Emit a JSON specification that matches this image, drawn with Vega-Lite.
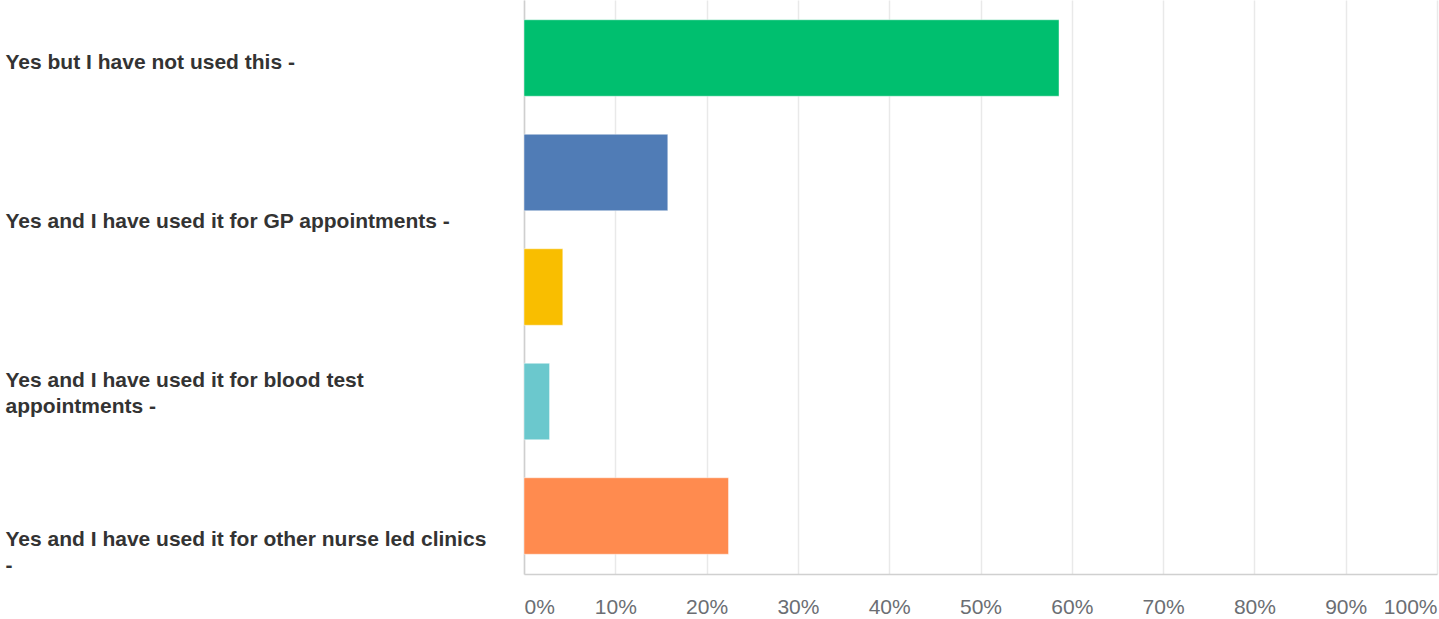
{
  "$schema": "https://vega.github.io/schema/vega-lite/v6.json",
  "width": 913,
  "height": 574,
  "autosize": {"type": "none"},
  "padding": {"left": 524, "top": 0, "right": 2, "bottom": 45},
  "background": "#ffffff",
  "config": {"view": {"stroke": null}, "font": "Liberation Sans"},
  "datasets": {
    "answers": [
      {"answer": "Yes but I have not used this", "share": 0.586},
      {"answer": "Yes and I have used it for GP appointments", "share": 0.1575},
      {"answer": "Yes and I have used it for blood test appointments", "share": 0.0425},
      {"answer": "Yes and I have used it for other nurse led clinics", "share": 0.028},
      {"answer": "Unlabelled answer", "share": 0.224}
    ],
    "labels": [
      {"label": "Yes but I have not used this -"},
      {"label": "Yes and I have used it for GP appointments -"},
      {"label": "Yes and I have used it for blood test\nappointments -"},
      {"label": "Yes and I have used it for other nurse led clinics\n-"}
    ]
  },
  "layer": [
    {
      "data": {"name": "answers"},
      "mark": {"type": "bar", "stroke": "#ffffff", "strokeOpacity": 0.45, "strokeWidth": 1},
      "encoding": {
        "y": {
          "field": "answer",
          "type": "nominal",
          "sort": null,
          "scale": {"paddingInner": 0.332, "paddingOuter": 0.1725},
          "axis": null
        },
        "x": {
          "field": "share",
          "type": "quantitative",
          "scale": {"domain": [0, 1], "nice": false},
          "axis": {
            "title": null,
            "values": [0, 0.1, 0.2, 0.3, 0.4, 0.5, 0.6, 0.7, 0.8, 0.9, 1],
            "format": ".0%",
            "grid": true,
            "gridColor": "#e9e9e9",
            "gridWidth": 1.5,
            "domainColor": "#d0d0d0",
            "domainWidth": 1.5,
            "ticks": false,
            "tickSize": 0,
            "labelFlush": true,
            "labelFontSize": 21,
            "labelColor": "#6b6e73",
            "labelPadding": 22
          }
        },
        "color": {
          "field": "answer",
          "type": "nominal",
          "sort": null,
          "scale": {
            "domain": [
              "Yes but I have not used this",
              "Yes and I have used it for GP appointments",
              "Yes and I have used it for blood test appointments",
              "Yes and I have used it for other nurse led clinics",
              "Unlabelled answer"
            ],
            "range": ["#00BF6F", "#507CB6", "#F9BE00", "#6BC8CD", "#FF8B4F"]
          },
          "legend": null
        }
      }
    },
    {
      "data": {"name": "labels"},
      "mark": {"type": "point", "opacity": 0},
      "encoding": {
        "y": {
          "field": "label",
          "type": "nominal",
          "sort": null,
          "scale": {"type": "point", "padding": 0.306, "align": 0.646},
          "axis": {
            "title": null,
            "ticks": false,
            "tickSize": 0,
            "grid": false,
            "domain": true,
            "domainColor": "#cfcfcf",
            "domainWidth": 1.5,
            "labelAlign": "left",
            "labelBaseline": "middle",
            "labelPadding": 519,
            "labelFontSize": 21,
            "labelFontWeight": "bold",
            "labelColor": "#333333",
            "labelLimit": 0,
            "labelLineHeight": 26,
            "labelExpr": "split(datum.value, '\\n')"
          }
        }
      }
    }
  ],
  "resolve": {"scale": {"y": "independent"}, "axis": {"y": "independent"}}
}
